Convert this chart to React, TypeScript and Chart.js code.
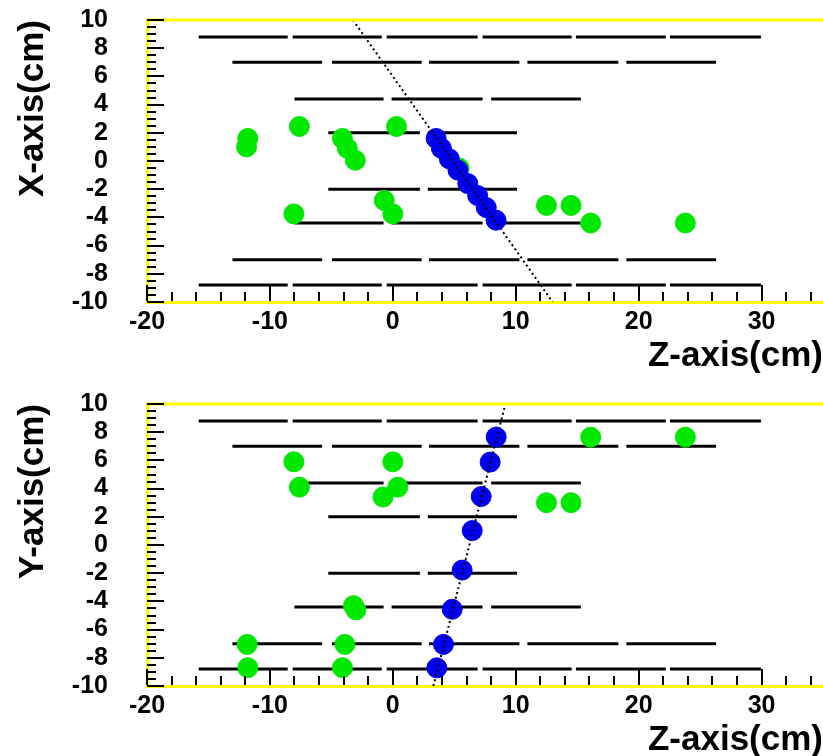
import React, { useEffect, useRef } from 'react';
import { Chart, registerables } from 'chart.js';

Chart.register(...registerables);

const FONT = '"Liberation Sans", Arial, Helvetica, sans-serif';
const GREEN = 'rgb(0,232,0)';
const BLUE = 'rgb(0,0,238)';
const YELLOW = '#ffff00';

// Axis ranges / tick labels
const Z_RANGE = [-20, 35];
const T_RANGE = [-10, 10];
const Z_TICK_STEP = 10;
const T_TICK_STEP = 2;

// Detector rows (horizontal dashed bars): y positions and segment limits [start, end, start, end, ...]
const ROW_Y = [8.8, 7.0, 4.4, 2.0, -2.0, -4.4, -7.0, -8.8];
const SEG_A = [-15.8, -8.55, -8.15, -0.9, -0.5, 6.9, 7.3, 14.55, 14.9, 22.2, 22.55, 29.95];
const SEG_B = [-13.05, -5.75, -4.95, 2.35, 2.95, 10.3, 10.95, 18.35, 19.0, 26.3];
const SEG_C = [-8.0, -0.75, -0.1, 7.3, 8.0, 15.3];
const SEG_D = [-5.25, 2.2, 2.85, 10.1];
const ROW_SEGS = [SEG_A, SEG_B, SEG_C, SEG_D, SEG_D, SEG_C, SEG_B, SEG_A];

// Top panel (X vs Z)
const GREEN_TOP_Z = [-11.8, -11.9, -7.6, 0.3, -4.1, -3.7, -3.05, -8.05, -0.7, 0.0, 12.5, 14.5, 16.1, 23.8, 5.4];
const GREEN_TOP_X = [1.6, 1.0, 2.45, 2.45, 1.6, 0.9, 0.05, -3.75, -2.8, -3.75, -3.15, -3.15, -4.4, -4.4, -0.5];
const BLUE_TOP_Z = [3.52, 3.95, 4.6, 5.3, 6.1, 6.9, 7.6, 8.4];
const BLUE_TOP_X = [1.6, 0.9, 0.15, -0.65, -1.6, -2.45, -3.3, -4.2];
const FIT_TOP_Z = [-3.25, 13.0];
const FIT_TOP_X = [10, -10];

// Bottom panel (Y vs Z)
const GREEN_BOT_Z = [-8.05, 0.0, -7.6, 0.4, -0.8, -3.2, -3.0, -11.85, -3.9, -11.8, -4.1, 16.1, 23.8, 12.5, 14.5];
const GREEN_BOT_Y = [5.9, 5.9, 4.1, 4.1, 3.4, -4.3, -4.6, -7.05, -7.05, -8.7, -8.7, 7.65, 7.65, 3.0, 3.0];
const BLUE_BOT_Z = [3.58, 4.12, 4.83, 5.64, 6.46, 7.19, 7.92, 8.41];
const BLUE_BOT_Y = [-8.71, -7.05, -4.56, -1.78, 1.02, 3.44, 5.88, 7.66];
const FIT_BOT_Z = [3.3, 9.16];
const FIT_BOT_Y = [-10, 10];

const zip = (xs: number[], ys: number[]) => xs.map((x, i) => ({ x, y: ys[i] }));

function rowData() {
  const pts: any[] = [];
  ROW_Y.forEach((y, i) => {
    const s = ROW_SEGS[i];
    for (let k = 0; k < s.length; k += 2) {
      pts.push({ x: s[k], y });
      pts.push({ x: s[k + 1], y });
      pts.push({ x: s[k + 1], y: null });
    }
  });
  return pts;
}

const decor = {
  id: 'rootDecor',
  afterDraw(chart: any) {
    const { ctx, chartArea: a, scales } = chart;
    const x = scales.x;
    const y = scales.y;
    ctx.save();
    ctx.strokeStyle = YELLOW;
    ctx.lineWidth = 3;
    ctx.beginPath();
    ctx.moveTo(a.left - 1.5, a.top);
    ctx.lineTo(a.right, a.top);
    ctx.stroke();
    ctx.strokeStyle = '#000';
    ctx.lineWidth = 2;
    ctx.beginPath();
    for (let i = -20; i <= 34; i += 2) {
      const px = Math.round(x.getPixelForValue(i));
      const len = i % 10 === 0 ? 16 : 9;
      ctx.moveTo(px, a.bottom - 1);
      ctx.lineTo(px, a.bottom - 1 - len);
    }
    for (let j = -20; j <= 20; j += 1) {
      const v = j / 2;
      const py = Math.round(y.getPixelForValue(v));
      const len = j % 4 === 0 ? 17 : 9;
      ctx.moveTo(a.left, py);
      ctx.lineTo(a.left + len, py);
    }
    ctx.stroke();
    ctx.restore();
  },
};

function makeConfig(p: {
  greenZ: number[]; greenV: number[]; blueZ: number[]; blueV: number[];
  fitZ: number[]; fitV: number[]; yTitle: string;
}): any {
  const tickFont = { family: FONT, size: 25, weight: 'bold' };
  const titleFont = { family: FONT, size: 35, weight: 'bold' };
  return {
    type: 'scatter',
    data: {
      datasets: [
        {
          label: 'fit', data: zip(p.fitZ, p.fitV), showLine: true, borderColor: '#000',
          borderWidth: 2, borderDash: [2, 3], pointRadius: 0, order: 0, fill: false,
        },
        {
          label: 'track hits', data: zip(p.blueZ, p.blueV), backgroundColor: BLUE, borderColor: BLUE,
          borderWidth: 1, pointRadius: 10, order: 1,
        },
        {
          label: 'hits', data: zip(p.greenZ, p.greenV), backgroundColor: GREEN, borderColor: GREEN,
          borderWidth: 1, pointRadius: 10, order: 2,
        },
        {
          label: 'rows', data: rowData(), showLine: true, spanGaps: false, borderColor: '#000',
          borderWidth: 3, pointRadius: 0, order: 3, fill: false, borderCapStyle: 'butt',
        },
      ],
    },
    options: {
      responsive: false,
      animation: false,
      devicePixelRatio: 1,
      events: [],
      layout: { autoPadding: false, padding: { top: 20, left: 0, right: 0, bottom: 0 } },
      plugins: { legend: { display: false }, tooltip: { enabled: false }, title: { display: false } },
      scales: {
        x: {
          type: 'linear', position: 'bottom', min: Z_RANGE[0], max: Z_RANGE[1],
          ticks: {
            stepSize: Z_TICK_STEP, color: '#000', font: tickFont, padding: 5, maxRotation: 0, autoSkip: false,
            callback: (v: number) => (Math.abs(v % Z_TICK_STEP) < 1e-9 ? String(v) : ''),
          },
          grid: { display: true, drawOnChartArea: false, drawTicks: false },
          border: { display: true, color: YELLOW, width: 3 },
          title: {
            display: true, text: 'Z-axis(cm)', align: 'end', color: '#000', font: titleFont,
            padding: { top: 0, bottom: 7 },
          },
          afterFit: (s: any) => {
            s.height = 82;
            s.paddingLeft = 0;
            s.paddingRight = 0;
          },
        },
        y: {
          type: 'linear', position: 'left', min: T_RANGE[0], max: T_RANGE[1],
          ticks: { stepSize: T_TICK_STEP, color: '#000', font: tickFont, padding: 39, autoSkip: false },
          grid: { display: true, drawOnChartArea: false, drawTicks: false },
          border: { display: true, color: YELLOW, width: 3 },
          title: {
            display: true, text: p.yTitle, align: 'end', color: '#000', font: titleFont,
            padding: { top: 12, bottom: 0 },
          },
          afterFit: (s: any) => {
            s.width = 147;
            s.paddingTop = 0;
            s.paddingBottom = 0;
          },
        },
      },
    },
    plugins: [decor],
  };
}

function Panel(props: { top: number; cfg: any }) {
  const ref = useRef<HTMLCanvasElement>(null);
  useEffect(() => {
    if (!ref.current) return;
    const chart = new Chart(ref.current, props.cfg);
    return () => chart.destroy();
  }, []);
  return (
    <canvas
      ref={ref}
      width={823}
      height={384}
      style={{ position: 'absolute', left: 0, top: props.top, width: 823, height: 384, display: 'block' }}
    />
  );
}

export default function App() {
  const topCfg = makeConfig({
    greenZ: GREEN_TOP_Z, greenV: GREEN_TOP_X, blueZ: BLUE_TOP_Z, blueV: BLUE_TOP_X,
    fitZ: FIT_TOP_Z, fitV: FIT_TOP_X, yTitle: 'X-axis(cm)',
  });
  const botCfg = makeConfig({
    greenZ: GREEN_BOT_Z, greenV: GREEN_BOT_Y, blueZ: BLUE_BOT_Z, blueV: BLUE_BOT_Y,
    fitZ: FIT_BOT_Z, fitV: FIT_BOT_Y, yTitle: 'Y-axis(cm)',
  });
  return (
    <div style={{ position: 'fixed', left: 0, top: 0, width: 823, height: 756, overflow: 'hidden', background: '#fff' }}>
      <Panel top={0} cfg={topCfg} />
      <Panel top={384} cfg={botCfg} />
    </div>
  );
}
